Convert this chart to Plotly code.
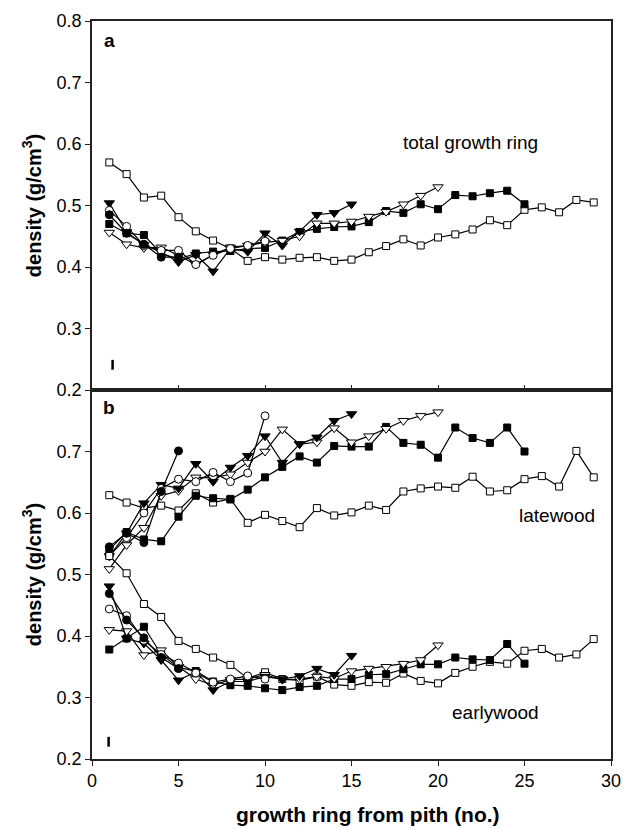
import plotly.graph_objects as go

# ---------------- data ----------------
# panel a: total growth ring density
a_open_sq = [0.570,0.551,0.513,0.516,0.481,0.458,0.443,0.430,0.410,0.416,0.412,0.415,0.416,0.410,0.412,0.424,0.434,0.445,0.435,0.448,0.453,0.461,0.476,0.468,0.493,0.497,0.489,0.509,0.505]
a_fill_sq = [0.470,0.455,0.452,0.422,0.413,0.422,0.425,0.426,0.430,0.431,0.443,0.457,0.462,0.465,0.466,0.473,0.491,0.488,0.502,0.494,0.517,0.515,0.520,0.524,0.502]
a_open_tri = [0.456,0.437,0.431,0.432,0.419,0.404,0.420,0.432,0.435,0.440,0.443,0.450,0.471,0.471,0.474,0.482,0.490,0.502,0.516,0.530]
a_fill_tri = [0.504,0.457,0.436,0.424,0.408,0.420,0.393,0.430,0.425,0.455,0.435,0.458,0.485,0.488,0.502]
a_open_circ = [0.492,0.466,0.435,0.427,0.427,0.404,0.419,0.430,0.435,0.442]
a_fill_circ = [0.485,0.455,0.437,0.416,0.416]

# panel b: latewood
lw_open_sq = [0.629,0.617,0.608,0.612,0.604,0.632,0.617,0.623,0.584,0.597,0.587,0.577,0.608,0.596,0.601,0.612,0.605,0.635,0.640,0.643,0.641,0.659,0.635,0.637,0.655,0.660,0.643,0.701,0.658]
lw_fill_sq = [0.540,0.569,0.557,0.554,0.594,0.628,0.624,0.622,0.638,0.658,0.675,0.692,0.682,0.709,0.708,0.708,0.740,0.714,0.711,0.690,0.739,0.722,0.714,0.739,0.700]
lw_open_tri = [0.509,0.548,0.576,0.628,0.636,0.658,0.657,0.663,0.682,0.700,0.736,0.712,0.715,0.738,0.715,0.725,0.737,0.750,0.758,0.764]
lw_fill_tri = [0.530,0.567,0.616,0.646,0.640,0.680,0.651,0.674,0.693,0.725,0.682,0.712,0.723,0.750,0.761]
lw_open_circ = [0.530,0.560,0.600,0.640,0.655,0.651,0.666,0.651,0.665,0.758]
lw_fill_circ = [0.545,0.567,0.552,0.635,0.701]

# panel b: earlywood
ew_open_sq = [0.530,0.502,0.452,0.431,0.392,0.379,0.365,0.353,0.331,0.341,0.330,0.328,0.334,0.321,0.319,0.325,0.324,0.339,0.327,0.323,0.340,0.350,0.358,0.355,0.376,0.379,0.365,0.370,0.395]
ew_fill_sq = [0.378,0.396,0.415,0.370,0.349,0.343,0.326,0.320,0.319,0.315,0.312,0.317,0.319,0.330,0.330,0.337,0.338,0.346,0.354,0.354,0.365,0.362,0.361,0.387,0.355]
ew_open_tri = [0.410,0.408,0.369,0.377,0.350,0.330,0.320,0.329,0.330,0.337,0.329,0.330,0.334,0.331,0.343,0.347,0.350,0.355,0.361,0.385]
ew_fill_tri = [0.481,0.396,0.388,0.361,0.328,0.342,0.312,0.326,0.326,0.334,0.330,0.335,0.347,0.337,0.368]
ew_open_circ = [0.444,0.433,0.393,0.370,0.356,0.340,0.325,0.330,0.335,0.330]
ew_fill_circ = [0.469,0.426,0.397,0.365,0.347]

y_ticks = [0.2, 0.3, 0.4, 0.5, 0.6, 0.7, 0.8]
x_ticks = [0, 5, 10, 15, 20, 25, 30]

# ---------------- figure ----------------
STYLES = {
    "open_sq": dict(symbol="square", color="white", size=7),
    "fill_sq": dict(symbol="square", color="black", size=7),
    "open_tri": dict(symbol="triangle-down", color="white", size=9),
    "fill_tri": dict(symbol="triangle-down", color="black", size=9),
    "open_circ": dict(symbol="circle", color="white", size=8),
    "fill_circ": dict(symbol="circle", color="black", size=8),
}

fig = go.Figure()

def add(vals, style, xa, ya):
    st = STYLES[style]
    fig.add_trace(go.Scatter(
        x=list(range(1, len(vals) + 1)), y=vals, mode="lines+markers",
        xaxis=xa, yaxis=ya, showlegend=False,
        line=dict(color="black", width=1.2),
        marker=dict(symbol=st["symbol"], size=st["size"], color=st["color"],
                    line=dict(color="black", width=1)),
    ))

panel_a = [(a_open_sq, "open_sq"), (a_fill_sq, "fill_sq"), (a_open_tri, "open_tri"),
           (a_fill_tri, "fill_tri"), (a_open_circ, "open_circ"), (a_fill_circ, "fill_circ")]
panel_b = [(lw_open_sq, "open_sq"), (lw_fill_sq, "fill_sq"), (lw_open_tri, "open_tri"),
           (lw_fill_tri, "fill_tri"), (lw_open_circ, "open_circ"), (lw_fill_circ, "fill_circ"),
           (ew_open_sq, "open_sq"), (ew_fill_sq, "fill_sq"), (ew_open_tri, "open_tri"),
           (ew_fill_tri, "fill_tri"), (ew_open_circ, "open_circ"), (ew_fill_circ, "fill_circ")]

for vals, st in panel_a:
    add(vals, st, "x", "y")
for vals, st in panel_b:
    add(vals, st, "x2", "y2")

FONT = "Liberation Sans, Arial, sans-serif"
axis_common = dict(showline=True, linecolor="#222", linewidth=1.5, mirror=True,
                   showgrid=False, zeroline=False, ticks="outside", ticklen=5,
                   tickcolor="#222", tickfont=dict(family=FONT, size=18, color="black"))

ytitle = dict(text="<b>density (g/cm<sup>3</sup>)</b>", standoff=10,
              font=dict(family=FONT, size=20, color="black"))

fig.update_layout(
    width=632, height=828,
    margin=dict(l=92, r=11, t=18, b=69),
    paper_bgcolor="white", plot_bgcolor="white",
    xaxis=dict(axis_common, domain=[0, 1], anchor="y", range=[0, 30], tickvals=x_ticks,
               showticklabels=False, ticks="inside"),
    yaxis=dict(axis_common, domain=[0.5, 1], anchor="x", range=[0.2, 0.8], tickvals=y_ticks,
               tickformat=".1f", title=ytitle),
    xaxis2=dict(axis_common, domain=[0, 1], anchor="y2", range=[0, 30], tickvals=x_ticks),
    yaxis2=dict(axis_common, domain=[0, 0.5], anchor="x2", range=[0.2, 0.8],
                tickvals=y_ticks[:-1], tickformat=".1f", title=ytitle),
)

# x-axis title (slightly right of centre, as in the reference)
fig.add_annotation(x=0.531, y=-0.0756, xref="paper", yref="paper",
                   text="<b>growth ring from pith (no.)</b>", showarrow=False,
                   xanchor="center", yanchor="middle",
                   font=dict(family=FONT, size=21, color="black"))

ann_font = dict(family=FONT, size=19, color="black")
fig.add_annotation(x=21.9, y=0.602, xref="x", yref="y", text="total growth ring",
                   showarrow=False, font=ann_font)
fig.add_annotation(x=26.9, y=0.596, xref="x2", yref="y2", text="latewood",
                   showarrow=False, font=ann_font)
fig.add_annotation(x=23.3, y=0.275, xref="x2", yref="y2", text="earlywood",
                   showarrow=False, font=ann_font)
fig.add_annotation(x=1.0, y=0.769, xref="x", yref="y", text="<b>a</b>",
                   showarrow=False, font=dict(family=FONT, size=19, color="black"))
fig.add_annotation(x=0.96, y=0.772, xref="x2", yref="y2", text="<b>b</b>",
                   showarrow=False, font=dict(family=FONT, size=19, color="black"))

# small error-bar marks
fig.add_shape(type="line", xref="x", yref="y", x0=1.19, x1=1.19, y0=0.233, y1=0.249,
              line=dict(color="black", width=2.5))
fig.add_shape(type="line", xref="x2", yref="y2", x0=0.96, x1=0.96, y0=0.220, y1=0.236,
              line=dict(color="black", width=2.5))

fig.write_html("out.html")
